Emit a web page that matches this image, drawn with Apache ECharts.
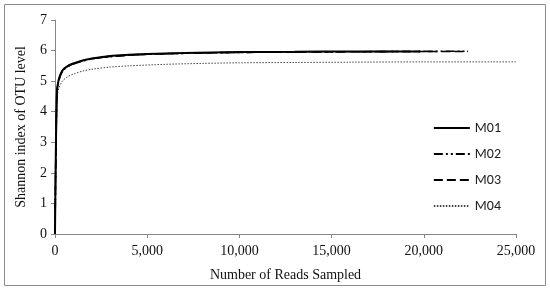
<!DOCTYPE html>
<html>
<head>
<meta charset="utf-8">
<script src="https://cdn.jsdelivr.net/npm/echarts@6/dist/echarts.min.js"></script>
<style>
html,body{margin:0;padding:0;background:#fff;}
#chart{width:550px;height:291px;}
</style>
</head>
<body>
<div id="chart"></div>
<script>
// reads sampled (x) and shannon index (y) per sample
var readsM01 = [0, 100, 200, 400, 700, 1000, 1500, 2000, 3000, 4000, 5000, 7000, 10000, 13000, 16000, 19800];
var shanM01  = [0, 4.6, 5.05, 5.35, 5.5, 5.58, 5.68, 5.74, 5.82, 5.86, 5.89, 5.92, 5.95, 5.96, 5.97, 5.97];
var readsM02 = [0, 100, 200, 400, 700, 1000, 1500, 2000, 3000, 4000, 5000, 7000, 10000, 13000, 16000, 19000, 22400];
var shanM02  = [0, 4.55, 5.0, 5.32, 5.48, 5.56, 5.66, 5.73, 5.8, 5.85, 5.88, 5.91, 5.94, 5.95, 5.96, 5.97, 5.98];
var readsM03 = [0, 100, 200, 400, 700, 1000, 1500, 2000, 3000, 4000, 5000, 7000, 10000, 13000, 16000, 19000, 22400];
var shanM03  = [0, 4.58, 5.02, 5.33, 5.49, 5.57, 5.67, 5.73, 5.81, 5.85, 5.88, 5.91, 5.94, 5.95, 5.96, 5.97, 5.97];
var readsM04 = [0, 100, 200, 400, 700, 1000, 1500, 2000, 3000, 4000, 6000, 8000, 10000, 13000, 16000, 20000, 25000];
var shanM04  = [0, 4.4, 4.75, 5.0, 5.15, 5.23, 5.33, 5.39, 5.46, 5.5, 5.55, 5.58, 5.6, 5.61, 5.62, 5.63, 5.63];
var names = ['M01', 'M02', 'M03', 'M04'];

function pairs(xs, ys){
	var out = [];
	for (var i = 0; i < xs.length; i++) {
		out.push([xs[i], ys[i]]);
	}
	return out;
}

var myChart = echarts.init(document.getElementById('chart'));
var serif = '"Liberation Serif", "Times New Roman", serif';
var axisColor = '#868686';

var option = {
	animation: false,
	backgroundColor: '#fff',
	graphic: [{
		type: 'rect',
		shape: { x: 4.5, y: 4.5, width: 541, height: 281 },
		style: { fill: 'none', stroke: '#8c8c8c', lineWidth: 1 },
		silent: true
	}],
	grid: { left: 55, right: 34, top: 20, bottom: 57 },
	legend: {
		orient: 'vertical',
		right: 44,
		top: 116,
		itemGap: 12,
		itemWidth: 36,
		itemHeight: 14,
		data: names,
		itemStyle: { opacity: 0 },
		textStyle: { fontFamily: 'Carlito, "Liberation Sans", sans-serif', fontSize: 14, color: '#222' }
	},
	xAxis: {
		type: 'value',
		min: 0,
		max: 25000,
		interval: 5000,
		name: 'Number of Reads Sampled',
		nameLocation: 'middle',
		nameGap: 34,
		nameTextStyle: { fontFamily: serif, fontSize: 14, color: '#111' },
		axisLine: { lineStyle: { color: axisColor } },
		axisTick: { show: true, length: 4, lineStyle: { color: axisColor } },
		splitLine: { show: false },
		axisLabel: {
			fontFamily: serif, fontSize: 14, color: '#111', margin: 10,
			formatter: function(v){ return v.toLocaleString('en-US'); }
		}
	},
	yAxis: {
		type: 'value',
		min: 0,
		max: 7,
		interval: 1,
		name: 'Shannon index of OTU level',
		nameLocation: 'middle',
		nameGap: 27,
		nameTextStyle: { fontFamily: serif, fontSize: 14, color: '#111' },
		axisLine: { show: true, lineStyle: { color: axisColor } },
		axisTick: { show: true, length: 4, lineStyle: { color: axisColor } },
		splitLine: { show: false },
		axisLabel: { fontFamily: serif, fontSize: 14, color: '#111', margin: 8 }
	},
	series: [
		{
			name: 'M01', type: 'line', smooth: 0.3, symbol: 'none',
			data: pairs(readsM01, shanM01),
			lineStyle: { color: '#000', width: 2, type: 'solid' },
			itemStyle: { color: '#000' }, z: 4
		},
		{
			name: 'M02', type: 'line', smooth: 0.3, symbol: 'none',
			data: pairs(readsM02, shanM02),
			lineStyle: { color: '#000', width: 1.6, type: [9, 3, 2, 3, 2, 3] },
			itemStyle: { color: '#000' }, z: 3
		},
		{
			name: 'M03', type: 'line', smooth: 0.3, symbol: 'none',
			data: pairs(readsM03, shanM03),
			lineStyle: { color: '#000', width: 1.6, type: [9, 4] },
			itemStyle: { color: '#000' }, z: 3
		},
		{
			name: 'M04', type: 'line', smooth: 0.3, symbol: 'none',
			data: pairs(readsM04, shanM04),
			lineStyle: { color: '#444', width: 1, type: [1.5, 1.5] },
			itemStyle: { color: '#444' }, z: 2
		}
	]
};
myChart.setOption(option);
</script>
</body>
</html>
